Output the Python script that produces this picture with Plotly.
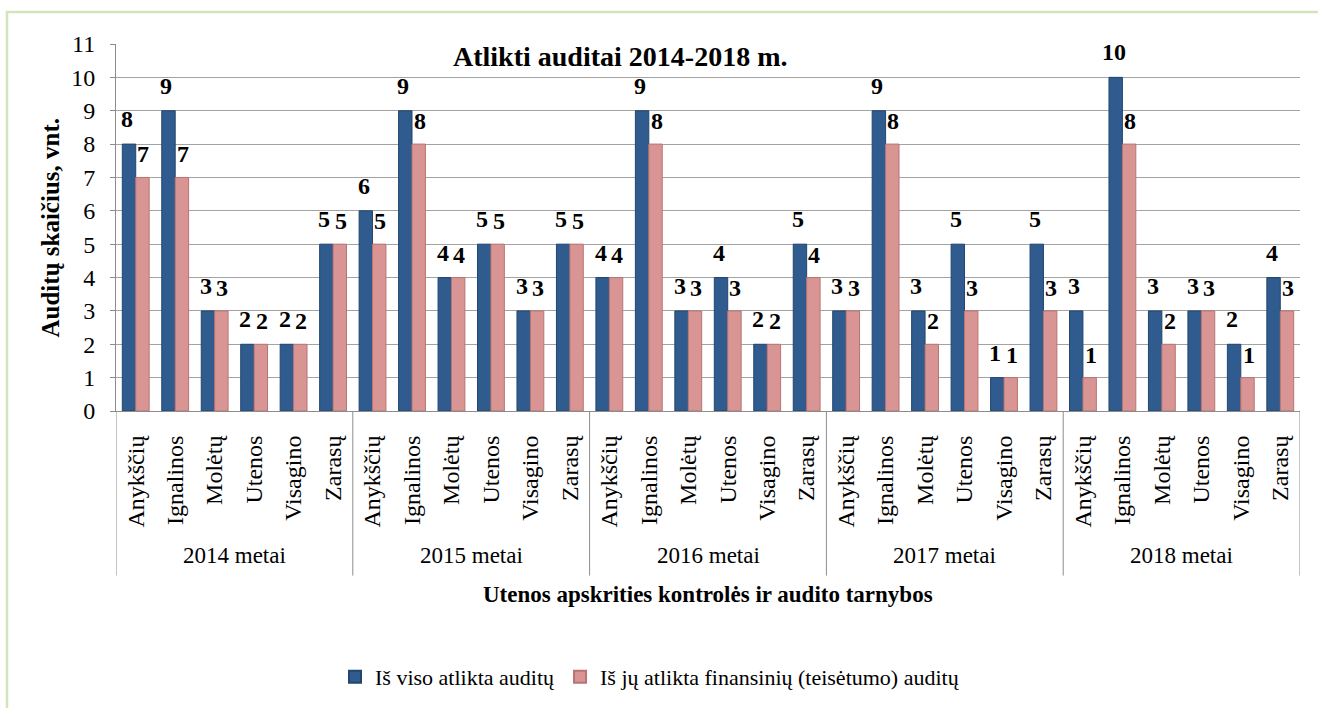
import plotly.graph_objects as go

# Audits carried out by the Utena county control and audit services, 2014-2018
years = ["2014 metai", "2015 metai", "2016 metai", "2017 metai", "2018 metai"]
districts = ["Anykščių", "Ignalinos", "Molėtų", "Utenos", "Visagino", "Zarasų"]

total_audits = [8, 9, 3, 2, 2, 5,
                6, 9, 4, 5, 3, 5,
                4, 9, 3, 4, 2, 5,
                3, 9, 3, 5, 1, 5,
                3, 10, 3, 3, 2, 4]
financial_audits = [7, 7, 3, 2, 2, 5,
                    5, 8, 4, 5, 3, 5,
                    4, 8, 3, 3, 2, 4,
                    3, 8, 2, 3, 1, 3,
                    1, 8, 2, 3, 1, 3]

series_names = ["Iš viso atlikta auditų", "Iš jų atlikta finansinių (teisėtumo) auditų"]
y_ticks = list(range(0, 12))

FONT = "Liberation Serif"
BLUE, BLUE_EDGE = "#2F5B8F", "#22466F"
PINK, PINK_EDGE = "#D99593", "#B87472"
GRID = "#A3A3A3"
AXIS = "#8C8C8C"

n_groups = len(years)
n_cat = len(districts)
positions = list(range(n_groups * n_cat))
tick_text = [d for _ in years for d in districts]

# pixel geometry of the page
W, H = 1318, 708
L, R, T, B = 116, 18, 44, 296
plot_h = H - T - B
plot_w = W - L - R


def py(px_y):
    """Convert a page pixel row to paper y."""
    return (H - B - px_y) / plot_h


def px(px_x):
    """Convert a page pixel column to paper x."""
    return (px_x - L) / plot_w


fig = go.Figure()
fig.add_trace(go.Bar(
    x=positions, y=total_audits, name=series_names[0],
    marker=dict(color=BLUE, line=dict(color=BLUE_EDGE, width=1)),
))
fig.add_trace(go.Bar(
    x=positions, y=financial_audits, name=series_names[1],
    marker=dict(color=PINK, line=dict(color=PINK_EDGE, width=1)),
))

bargap = 0.32
half = (1 - bargap) / 4  # centre offset of each bar inside its slot

annotations = []
# value labels above the bars
for i, v in zip(positions, total_audits):
    annotations.append(dict(x=i - half, y=v, xref="x", yref="y", text=f"<b>{v}</b>",
                            showarrow=False, xshift=-2, yshift=25,
                            font=dict(family=FONT, size=24, color="black")))
for i, v in zip(positions, financial_audits):
    annotations.append(dict(x=i + half, y=v, xref="x", yref="y", text=f"<b>{v}</b>",
                            showarrow=False, xshift=1, yshift=23,
                            font=dict(family=FONT, size=24, color="black")))

# year group labels under the district names
for g, yr in enumerate(years):
    centre = g * n_cat + (n_cat - 1) / 2
    annotations.append(dict(x=centre, y=py(557), xref="x", yref="paper", text=yr,
                            showarrow=False, yanchor="middle",
                            font=dict(family=FONT, size=23, color="black")))

# chart title
annotations.append(dict(x=px(620), y=py(57), xref="paper", yref="paper",
                        text="<b>Atlikti auditai 2014-2018 m.</b>", showarrow=False,
                        yanchor="middle", font=dict(family=FONT, size=28, color="black")))
# x-axis title
annotations.append(dict(x=0.5, y=py(596), xref="paper", yref="paper",
                        text="<b>Utenos apskrities kontrolės ir audito tarnybos</b>",
                        showarrow=False, yanchor="middle",
                        font=dict(family=FONT, size=23, color="black")))
# y-axis title
annotations.append(dict(x=px(50), y=py(228), xref="paper", yref="paper",
                        text="<b>Auditų skaičius, vnt.</b>", showarrow=False, textangle=-90,
                        xanchor="center", yanchor="middle",
                        font=dict(family=FONT, size=25, color="black")))

shapes = []
# group dividers reaching down through the category labels
for g in range(n_groups + 1):
    xb = g * n_cat - 0.5
    shapes.append(dict(type="line", xref="x", yref="paper", x0=xb, x1=xb,
                       y0=0, y1=py(577), line=dict(color=AXIS, width=1)))
# light green frame around the chart
shapes.append(dict(type="rect", xref="paper", yref="paper",
                   x0=px(7), x1=px(1330), y0=py(12), y1=py(720),
                   line=dict(color="#D5E3BA", width=2.5), layer="below"))

fig.update_layout(
    width=W, height=H,
    margin=dict(l=L, r=R, t=T, b=B, pad=0),
    paper_bgcolor="white", plot_bgcolor="white",
    barmode="group", bargap=bargap, bargroupgap=0,
    font=dict(family=FONT, color="black"),
    showlegend=True,
    legend=dict(orientation="h", x=px(650), xanchor="center", y=py(677), yanchor="middle",
                font=dict(family=FONT, size=22, color="black"),
                itemsizing="constant", traceorder="normal"),
    annotations=annotations,
    shapes=shapes,
)
fig.update_xaxes(
    range=[-0.5, len(positions) - 0.5],
    tickmode="array", tickvals=positions, ticktext=tick_text,
    tickangle=-90, tickfont=dict(family=FONT, size=24, color="black"),
    ticks="", ticklabelstandoff=14,
    showgrid=False, zeroline=False,
    showline=True, linecolor=AXIS, linewidth=1,
)
fig.update_yaxes(
    range=[0, 11], tickmode="array", tickvals=y_ticks,
    tickfont=dict(family=FONT, size=24, color="black"),
    ticks="outside", ticklen=5, tickcolor=AXIS, ticklabelstandoff=10,
    showgrid=True, gridcolor=GRID, gridwidth=1,
    zeroline=False, showline=True, linecolor=AXIS, linewidth=1,
)

fig.write_html("out.html")
